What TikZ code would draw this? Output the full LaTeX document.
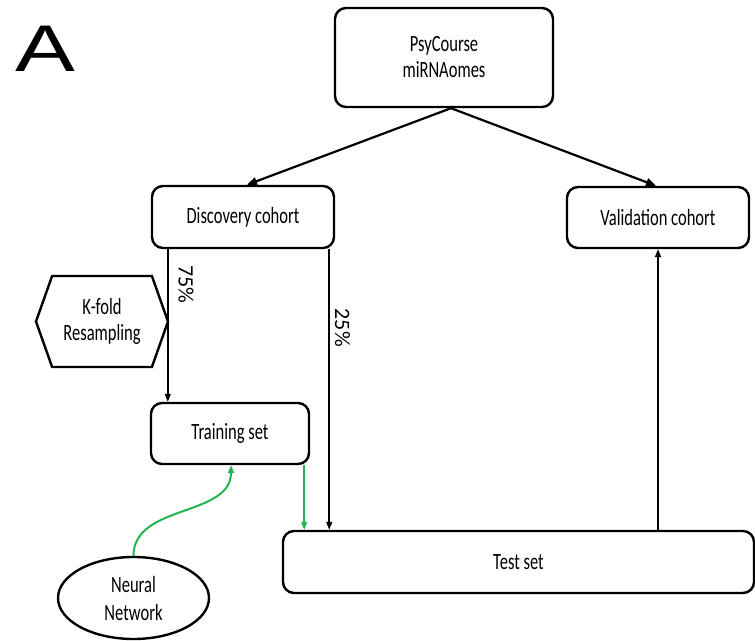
\documentclass[tikz,border=0pt]{standalone}
\usepackage{fontspec}
\setmainfont{Carlito}[FakeStretch=0.71]
\newfontfamily\labelfont{Carlito}
\newfontfamily\panelfont{Liberation Sans}[FakeStretch=1.36]
\usetikzlibrary{arrows.meta,shapes.geometric,shapes.symbols}
\definecolor{nngreen}{RGB}{38,180,80}

\begin{document}
\begin{tikzpicture}[x=1pt, y=1pt,
  box/.style={draw, line width=2.4pt, rounded corners=11pt, align=center, inner sep=0pt, font=\fontsize{23.3}{26}\selectfont},
  hexbox/.style={draw, line width=2.4pt, signal, signal to=east and west, signal pointer angle=141, align=center, inner sep=0pt, font=\fontsize{23.3}{26}\selectfont},
  ovalbox/.style={draw, line width=2.4pt, ellipse, align=center, inner sep=0pt, font=\fontsize{23.3}{28}\selectfont},
  mainarrow/.style={line width=2.2pt, -{Triangle[length=10pt, width=8pt]}},
  splitarrow/.style={line width=1.5pt, -{Triangle[length=8pt, width=6pt]}},
  greenarrow/.style={nngreen, line width=1.5pt, -{Triangle[length=8pt, width=6pt]}},
  pctlabel/.style={rotate=-90, anchor=south, inner sep=0pt, font=\labelfont\fontsize{22}{22}\selectfont}]
\useasboundingbox (0,0) rectangle (755,640);
\node[anchor=base west, inner sep=0pt, font=\panelfont\fontsize{66}{66}\selectfont] (panel) at (15,568) {A};
\node[box, minimum width=218pt, minimum height=99pt] (psy) at (444,582.5) {PsyCourse\\miRNAomes};
\node[box, minimum width=182pt, minimum height=62pt] (disc) at (243,423) {Discovery cohort};
\node[box, minimum width=182pt, minimum height=61pt] (valid) at (658,422.5) {Validation cohort};
\node[hexbox, minimum width=132pt, minimum height=91pt] (kfold) at (102,318.5) {K-fold\\Resampling};
\node[box, minimum width=158pt, minimum height=61pt] (train) at (230,206.5) {Training set};
\node[box, minimum width=471pt, minimum height=62pt] (test) at (518.5,78) {Test set};
\node[ovalbox, minimum width=151pt, minimum height=82pt] (nn) at (133.5,42) {Neural\\Network};
\draw[mainarrow] ([xshift=7pt]psy.south) -- ([xshift=4pt]disc.north);
\draw[mainarrow] ([xshift=7pt]psy.south) -- ([xshift=-2pt]valid.north);
\draw[splitarrow] ([xshift=17pt]disc.south west) -- ([xshift=17pt]disc.south west |- train.north)
  node[pctlabel, pos=0.23, yshift=10pt] {75\%};
\draw[splitarrow] ([xshift=-6pt]disc.south east) -- ([xshift=-6pt]disc.south east |- test.north)
  node[pctlabel, pos=0.28, yshift=5pt] {25\%};
\draw[splitarrow] (test.north -| valid.south) -- (valid.south);
\draw[greenarrow] ([xshift=-6pt]train.south east) -- ([xshift=-6pt]train.south east |- test.north);
\draw[nngreen, line width=2pt, -{Triangle[length=8pt, width=6pt]}] (nn.north) to[out=90, in=-90] ([xshift=1pt]train.south);
\end{tikzpicture}
\end{document}
